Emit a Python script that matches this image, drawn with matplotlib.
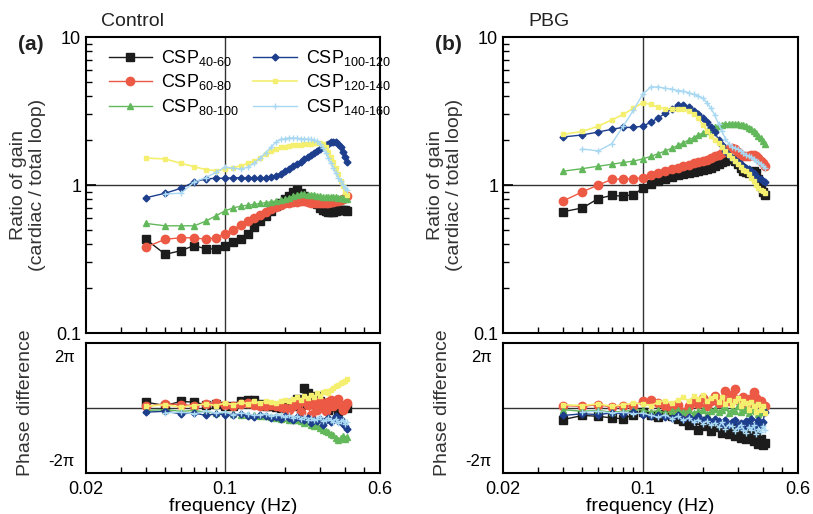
import numpy as np
import matplotlib
matplotlib.use('Agg')
import matplotlib.pyplot as plt
from matplotlib.ticker import NullFormatter, FixedLocator

plt.rcParams['font.family'] = ['Liberation Sans', 'DejaVu Sans']
plt.rcParams['mathtext.default'] = 'regular'

nan = np.nan

freq = [0.04, 0.05, 0.06, 0.07, 0.08, 0.09, 0.10, 0.11, 0.12, 0.13,
        0.14, 0.15, 0.16, 0.17, 0.18, 0.19, 0.20, 0.21, 0.22, 0.23,
        0.24, 0.25, 0.26, 0.27, 0.28, 0.29, 0.30, 0.31, 0.32, 0.33,
        0.34, 0.35, 0.36, 0.37, 0.38, 0.39, 0.40, 0.41]

labels = ['CSP$_{40\u201060}$', 'CSP$_{60\u201080}$', 'CSP$_{80\u2010100}$',
          'CSP$_{100\u2010120}$', 'CSP$_{120\u2010140}$', 'CSP$_{140\u2010160}$']

# gain ratio, control
gain_a_40 = [0.43, 0.34, 0.36, 0.39, 0.37, 0.37, 0.39, 0.41, 0.43, 0.47,
             0.52, 0.57, 0.62, 0.67, 0.72, 0.76, 0.80, 0.84, 0.90, 0.92,
             0.88, 0.84, 0.82, 0.80, 0.78, 0.74, 0.70, 0.68, 0.67, 0.66,
             0.66, 0.66, 0.67, 0.68, 0.68, 0.68, 0.68, 0.67]
gain_a_60 = [0.38, 0.43, 0.44, 0.44, 0.43, 0.44, 0.47, 0.50, 0.54, 0.57,
             0.60, 0.63, 0.66, 0.69, 0.71, 0.73, 0.75, 0.76, 0.77, 0.77,
             0.78, 0.78, 0.77, 0.76, 0.76, 0.75, 0.75, 0.75, 0.76, 0.76,
             0.77, 0.77, 0.78, 0.78, 0.79, 0.80, 0.82, 0.84]
gain_a_80 = [0.55, 0.53, 0.53, 0.53, 0.57, 0.62, 0.67, 0.70, 0.72, 0.73,
             0.74, 0.75, 0.76, 0.77, 0.78, 0.79, 0.80, 0.82, 0.84, 0.86,
             0.87, 0.87, 0.86, 0.85, 0.85, 0.84, 0.84, 0.83, 0.83, 0.83,
             0.83, 0.83, 0.83, 0.82, 0.82, 0.82, 0.81, 0.81]
gain_a_100 = [0.82, 0.88, 0.95, 1.05, 1.10, 1.11, 1.11, 1.12, 1.12, 1.12,
              1.12, 1.12, 1.12, 1.13, 1.15, 1.19, 1.24, 1.29, 1.34, 1.39,
              1.44, 1.49, 1.54, 1.60, 1.65, 1.70, 1.75, 1.80, 1.85, 1.90,
              1.94, 1.96, 1.95, 1.90, 1.80, 1.68, 1.55, 1.42]
gain_a_120 = [1.52, 1.50, 1.40, 1.33, 1.27, 1.25, 1.28, 1.31, 1.35, 1.40,
              1.45, 1.52, 1.62, 1.70, 1.76, 1.80, 1.82, 1.84, 1.85, 1.86,
              1.87, 1.88, 1.89, 1.90, 1.92, 1.93, 1.92, 1.88, 1.80, 1.68,
              1.55, 1.42, 1.30, 1.18, 1.07, 0.98, 0.90, 0.85]
gain_a_140 = [nan, 0.87, 0.88, 1.05, 1.12, 1.22, 1.32, 1.30, 1.28, 1.32,
              1.40, 1.52, 1.65, 1.80, 1.95, 2.03, 2.06, 2.08, 2.08, 2.07,
              2.06, 2.05, 2.04, 2.03, 2.01, 1.98, 1.90, 1.78, 1.65, 1.52,
              1.40, 1.30, 1.20, 1.12, 1.06, 1.00, 0.96, 0.92]

# gain ratio, PBG
gain_b_40 = [0.66, 0.70, 0.81, 0.85, 0.84, 0.86, 0.95, 1.02, 1.07, 1.10,
             1.13, 1.16, 1.19, 1.21, 1.23, 1.25, 1.27, 1.29, 1.31, 1.34,
             1.38, 1.42, 1.46, 1.49, 1.50, 1.46, 1.38, 1.30, 1.25, 1.22,
             1.21, 1.23, 1.24, 1.20, 1.10, 0.98, 0.90, 0.85]
gain_b_60 = [0.78, 0.90, 1.00, 1.09, 1.10, 1.10, 1.12, 1.16, 1.20, 1.24,
             1.28, 1.31, 1.34, 1.37, 1.40, 1.42, 1.45, 1.48, 1.52, 1.56,
             1.60, 1.65, 1.70, 1.75, 1.78, 1.74, 1.66, 1.60, 1.57, 1.57,
             1.58, 1.60, 1.60, 1.57, 1.52, 1.46, 1.40, 1.35]
gain_b_80 = [1.24, 1.29, 1.34, 1.38, 1.42, 1.45, 1.50, 1.56, 1.63, 1.70,
             1.77, 1.85, 1.93, 2.01, 2.09, 2.17, 2.25, 2.33, 2.40, 2.46,
             2.51, 2.55, 2.58, 2.60, 2.60, 2.59, 2.58, 2.56, 2.53, 2.49,
             2.44, 2.38, 2.31, 2.23, 2.15, 2.07, 1.98, 1.90]
gain_b_100 = [2.11, 2.18, 2.28, 2.38, 2.45, 2.45, 2.50, 2.65, 2.85, 3.05,
              3.28, 3.45, 3.45, 3.35, 3.18, 3.00, 2.84, 2.65, 2.45, 2.28,
              2.02, 1.85, 1.70, 1.60, 1.52, 1.47, 1.43, 1.38, 1.34, 1.31,
              1.28, 1.25, 1.20, 1.15, 1.12, 1.09, 1.07, 1.05]
gain_b_120 = [2.20, 2.30, 2.50, 2.75, 3.00, 3.30, 3.60, 3.50, 3.35, 3.26,
              3.25, 3.25, 3.26, 3.15, 3.00, 2.84, 2.55, 2.30, 2.15, 2.02,
              1.92, 1.80, 1.70, 1.60, 1.52, 1.45, 1.38, 1.32, 1.27, 1.24,
              1.18, 1.12, 1.06, 1.00, 0.96, 0.93, 0.91, 0.88]
gain_b_140 = [nan, 1.75, 1.70, 1.90, 2.50, 3.20, 4.10, 4.60, 4.60, 4.50,
              4.45, 4.35, 4.30, 4.20, 4.10, 4.00, 3.85, 3.60, 3.30, 2.95,
              2.60, 2.30, 2.05, 1.90, 1.82, 1.78, 1.75, 1.70, 1.65, 1.60,
              1.57, 1.54, 1.50, 1.46, 1.42, 1.38, 1.34, 1.30]

# phase difference (rad), control
phase_a_40 = [0.7, 0.3, 0.8, 0.7, 0.4, 0.5, 0.2, 0.3, 0.9, 1.0,
              1.0, 0.5, 0.3, 0.2, 0.1, 0.0, 0.3, 0.6, 0.2, 1.1,
              0.4, 2.4, 1.8, 0.9, 1.3, 1.5, 0.8, 0.2, 0.6, -0.3,
              0.3, 0.5, 0.1, -0.4, 0.2, 0.3, 0.1, 0.0]
phase_a_60 = [0.2, 0.5, 0.4, 0.3, 0.5, 0.6, 0.4, 0.3, 0.5, 0.6,
              0.4, 0.3, 0.2, 0.4, 0.3, 0.1, 0.0, -0.2, 0.3, 0.5,
              -0.5, 0.8, 0.4, -0.8, 0.6, -0.3, 0.9, 0.5, -0.4, 0.7,
              1.0, 0.2, 0.8, 1.1, 0.4, -0.2, 0.3, 0.6]
phase_a_80 = [-0.3, -0.2, -0.4, -0.3, -0.5, -0.6, -0.6, -0.7, -0.8, -0.8,
              -0.9, -1.0, -1.0, -1.1, -1.2, -1.3, -1.2, -1.4, -1.5, -1.4,
              -1.6, -1.8, -1.7, -2.0, -2.2, -2.0, -2.4, -2.6, -2.8, -2.9,
              -3.1, -3.3, -3.6, -3.9, -3.6, -3.4, -3.7, -3.5]
phase_a_100 = [-0.5, -0.4, -0.7, -0.6, -0.9, -0.7, -0.8, -0.9, -0.7, -1.0,
               -1.1, -0.9, -1.0, -1.2, -1.1, -1.3, -1.0, -1.2, -1.4, -1.1,
               -1.3, -1.5, -1.2, -1.8, -1.4, -1.6, -1.3, -2.0, -1.5, -1.2,
               -1.7, -1.4, -1.0, -1.6, -1.3, -1.9, -2.2, -2.5]
phase_a_120 = [0.2, 0.4, 0.1, 0.3, 0.5, 0.3, 0.6, 0.4, 0.7, 0.5,
               0.8, 0.6, 0.9, 0.7, 0.6, 0.9, 1.0, 0.8, 1.1, 1.3,
               1.0, 1.4, 1.2, 1.6, 1.3, 1.8, 1.5, 1.9, 2.1, 1.8,
               2.2, 2.4, 2.6, 2.8, 3.0, 3.1, 3.3, 3.5]
phase_a_140 = [nan, -0.6, -0.5, -0.7, -0.4, -0.6, -0.5, -0.8, -0.6, -0.7,
               -0.9, -0.8, -0.7, -1.0, -0.8, -0.9, -1.1, -0.9, -1.2, -1.0,
               -1.3, -1.1, -1.4, -1.2, -1.5, -1.3, -1.1, -1.6, -1.4, -1.2,
               -1.5, -1.7, -1.3, -1.8, -1.6, -1.4, -1.9, -1.7]

# phase difference (rad), PBG
phase_b_40 = [-1.4, -0.9, -1.0, -1.2, -1.3, -0.8, -0.5, -0.9, -1.1, -0.7,
              -1.0, -1.3, -1.6, -2.0, -1.4, -2.6, -2.2, -1.8, -2.8, -2.3,
              -2.0, -3.0, -2.5, -3.1, -2.2, -3.4, -2.8, -3.6, -3.0, -3.8,
              -2.6, -3.5, -4.0, -3.2, -4.3, -3.7, -4.5, -4.2]
phase_b_60 = [0.3, 0.2, 0.4, 0.1, 0.3, 0.2, 0.9, 1.0, 0.6, 0.3,
              -0.2, 0.4, -0.5, 0.2, 0.8, 0.5, 1.2, 0.3, 0.9, 1.5,
              0.6, 1.1, 2.1, 0.8, 1.6, 2.3, 1.0, 0.4, 1.3, 0.7,
              1.1, 0.5, 1.9, 1.2, 0.6, 0.9, -0.4, 0.2]
phase_b_80 = [-0.2, -0.4, -0.3, -0.5, -0.4, -0.3, -0.2, -0.5, -0.3, -0.6,
              -0.4, -0.2, -0.5, -0.3, -0.6, -0.4, -0.2, -0.7, -0.4, -0.1,
              -0.5, -0.3, 0.1, -0.6, -0.2, -0.4, 0.2, -0.5, -0.3, -0.1,
              -0.6, -0.2, 0.3, -0.4, -0.7, -0.2, -0.5, -0.3]
phase_b_100 = [-0.9, -0.7, -0.8, -0.6, -0.7, -0.5, -0.8, -1.0, -0.9, -1.1,
               -1.2, -0.9, -1.3, -1.1, -1.4, -1.0, -1.5, -1.2, -1.7, -1.3,
               -1.6, -1.9, -1.4, -2.0, -1.7, -1.5, -2.2, -1.8, -2.4, -1.6,
               -2.0, -1.3, -2.3, -1.9, -1.5, -2.1, -1.7, -0.5]
phase_b_120 = [0.4, 0.3, 0.5, 0.2, 0.4, 0.6, 0.5, 0.3, 0.7, 0.9,
               0.6, 1.0, 1.3, 0.8, 1.4, 1.1, 1.6, 0.9, 1.2, 1.5,
               0.7, 1.3, 0.5, 1.0, 0.4, 0.8, 1.2, 0.3, 0.9, 0.6,
               -0.2, 0.7, 0.3, -0.5, 0.5, -0.3, 0.2, -0.6]
phase_b_140 = [nan, -0.5, -0.4, -0.6, -0.5, -0.7, -0.6, -0.9, -1.1, -0.8,
               -1.3, -1.0, -1.5, -1.2, -1.7, -1.4, -1.9, -1.6, -2.1, -1.8,
               -2.3, -1.7, -2.5, -2.0, -2.2, -2.8, -2.4, -2.0, -2.6, -3.0,
               -2.3, -2.7, -2.1, -3.2, -2.5, -2.9, -2.2, -2.6]

colors = ['#1c1c1c', '#ec5a45', '#62b85a', '#1d3e8c', '#f4ef6e', '#a8d8f2']
markers = ['s', 'o', '^', 'D', 's', '+']
msizes = [6, 6, 4, 3.5, 3.5, 4]
lwidths = [1.0, 1.0, 1.0, 1.0, 1.2, 1.0]

gains_a = [gain_a_40, gain_a_60, gain_a_80, gain_a_100, gain_a_120, gain_a_140]
gains_b = [gain_b_40, gain_b_60, gain_b_80, gain_b_100, gain_b_120, gain_b_140]
phases_a = [phase_a_40, phase_a_60, phase_a_80, phase_a_100, phase_a_120, phase_a_140]
phases_b = [phase_b_40, phase_b_60, phase_b_80, phase_b_100, phase_b_120, phase_b_140]

W, H = 813, 514
fig = plt.figure(figsize=(W / 100, H / 100), dpi=100)


def box(x0, y0, x1, y1):
    return [x0 / W, 1 - y1 / H, (x1 - x0) / W, (y1 - y0) / H]


minor_x = [0.03, 0.04, 0.05, 0.06, 0.07, 0.08, 0.09, 0.2, 0.3, 0.4, 0.5]


def style_common(ax):
    ax.set_xscale('log')
    ax.set_xlim(0.02, 0.6)
    for s in ax.spines.values():
        s.set_linewidth(1.5)
    ax.xaxis.set_major_locator(FixedLocator([0.02, 0.1, 0.6]))
    ax.xaxis.set_minor_locator(FixedLocator(minor_x))
    ax.xaxis.set_minor_formatter(NullFormatter())
    ax.tick_params(axis='x', which='both', direction='in', top=False)
    ax.tick_params(axis='x', which='major', length=0, labelsize=13, pad=6)
    ax.tick_params(axis='x', which='minor', length=4, width=1)
    ax.axvline(0.1, color='#333333', lw=1, zorder=1)


panels = [
    (86, 380, gains_a, phases_a, '(a)', 'Control'),
    (503, 798, gains_b, phases_b, '(b)', 'PBG'),
]

for x0, x1, gains, phases, tag, title in panels:
    axg = fig.add_axes(box(x0, 37, x1, 333))
    axp = fig.add_axes(box(x0, 343, x1, 473))

    style_common(axg)
    axg.set_yscale('log')
    axg.set_ylim(0.1, 10)
    axg.set_yticks([0.1, 1, 10])
    axg.set_yticklabels(['0.1', '1', '10'])
    axg.yaxis.set_minor_formatter(NullFormatter())
    axg.tick_params(axis='y', which='both', direction='in', right=False, labelsize=13)
    axg.tick_params(axis='y', which='major', length=7, width=1.2)
    axg.tick_params(axis='y', which='minor', length=4, width=1)
    axg.tick_params(axis='x', labelbottom=False)
    axg.axhline(1, color='#333333', lw=1, zorder=1)

    for g, c, m, ms, lw, lab in zip(gains, colors, markers, msizes, lwidths, labels):
        axg.plot(freq, g, color=c, marker=m, ms=ms, lw=lw, mec=c, label=lab, zorder=3)

    style_common(axp)
    axp.set_ylim(-2.5 * np.pi, 2.5 * np.pi)
    axp.set_yticks([-2 * np.pi, 2 * np.pi])
    axp.set_yticklabels(['-2π', '2π'])
    axp.tick_params(axis='y', which='both', length=0, labelsize=12, pad=8)
    axp.set_xticklabels(['0.02', '0.1', '0.6'])
    axp.axhline(0, color='#333333', lw=1, zorder=1)
    for p, c, m, ms, lw in zip(phases, colors, markers, msizes, lwidths):
        axp.plot(freq, p, color=c, marker=m, ms=ms, lw=lw, mec=c, zorder=3)

    axp.set_xlabel('frequency (Hz)', fontsize=14, labelpad=0)

    xc = (x0 - 58) / W
    fig.text(xc, 1 - 185 / H, 'Ratio of gain\n(cardiac / total loop)', rotation=90,
             ha='center', va='center', fontsize=14, multialignment='center', color='#333333')
    fig.text((x0 - 61) / W, 1 - 403 / H, 'Phase difference', rotation=90,
             ha='center', va='center', fontsize=14, color='#333333')
    fig.text((x0 - 55) / W, 1 - 45 / H, tag, ha='center', va='center',
             fontsize=15, fontweight='bold', color='#222222')
    fig.text((x0 + 46) / W, 1 - 21 / H, title, ha='center', va='center',
             fontsize=14, color='#222222')

    if tag == '(a)':
        axg.legend(loc='upper left', ncol=2, frameon=False, fontsize=13,
                   bbox_to_anchor=(0.04, 1.0), handlelength=2.4, handletextpad=0.5,
                   columnspacing=0.8, labelspacing=0.25, borderaxespad=0.2)

fig.savefig('out.png', dpi=100)
